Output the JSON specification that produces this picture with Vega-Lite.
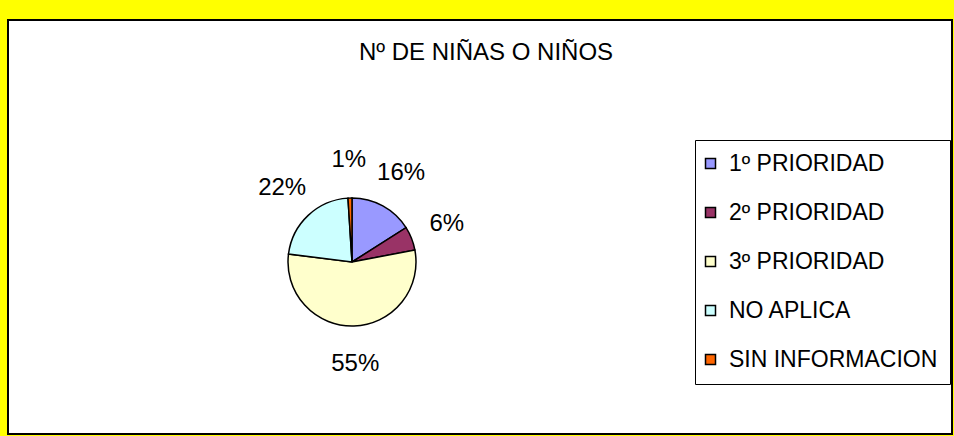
{
  "$schema": "https://vega.github.io/schema/vega-lite/v6.json",
  "width": 944,
  "height": 414,
  "autosize": "none",
  "padding": {"left": 8, "top": 20, "right": 2, "bottom": 2},
  "background": "#FFFF00",
  "view": {"fill": "white", "stroke": "black", "strokeWidth": 2},
  "config": {
    "view": {"fill": "white", "stroke": "black", "strokeWidth": 2},
    "font": "Liberation Sans"
  },
  "title": {
    "text": "Nº DE NIÑAS O NIÑOS",
    "fontSize": 24,
    "fontWeight": "normal",
    "font": "Liberation Sans",
    "offset": -48,
    "dx": 6,
    "anchor": "middle",
    "color": "black"
  },
  "data": {
    "values": [
      {"categoria": "1º PRIORIDAD", "valor": 0.16},
      {"categoria": "2º PRIORIDAD", "valor": 0.06},
      {"categoria": "3º PRIORIDAD", "valor": 0.55},
      {"categoria": "NO APLICA", "valor": 0.22},
      {"categoria": "SIN INFORMACION", "valor": 0.01}
    ]
  },
  "layer": [
    {
      "mark": {"type": "point", "opacity": 0},
      "encoding": {
        "x": {"field": "valor", "type": "quantitative", "axis": null},
        "y": {"field": "valor", "type": "quantitative", "axis": null}
      }
    },
    {
      "mark": {"type": "arc", "x": 344, "y": 242, "outerRadius": 64, "stroke": "black", "strokeWidth": 1.5},
      "encoding": {
        "theta": {"field": "valor", "type": "quantitative", "stack": true},
        "order": {"field": "categoria"},
        "color": {
          "field": "categoria",
          "type": "nominal",
          "scale": {
            "domain": ["1º PRIORIDAD", "2º PRIORIDAD", "3º PRIORIDAD", "NO APLICA", "SIN INFORMACION"],
            "range": ["#9999FF", "#993366", "#FFFFCC", "#CCFFFF", "#FF6600"]
          },
          "legend": {
            "orient": "none",
            "legendX": 687,
            "legendY": 120,
            "title": null,
            "labelFont": "Liberation Sans",
            "labelFontSize": 23,
            "labelColor": "black",
            "labelLimit": 400,
            "symbolType": "square",
            "symbolSize": 100,
            "symbolStrokeColor": "black",
            "symbolStrokeWidth": 1.5,
            "symbolOpacity": 1,
            "symbolOffset": -8,
            "rowPadding": 25,
            "padding": 12,
            "labelOffset": 7,
            "strokeColor": "black",
            "fillColor": "white"
          }
        }
      }
    },
    {
      "mark": {"type": "text", "x": 344, "y": 242, "radius": 102, "fontSize": 24, "font": "Liberation Sans", "color": "black"},
      "encoding": {
        "theta": {"field": "valor", "type": "quantitative", "stack": true},
        "order": {"field": "categoria"},
        "text": {"field": "valor", "type": "quantitative", "format": ".0%"}
      }
    }
  ]
}
